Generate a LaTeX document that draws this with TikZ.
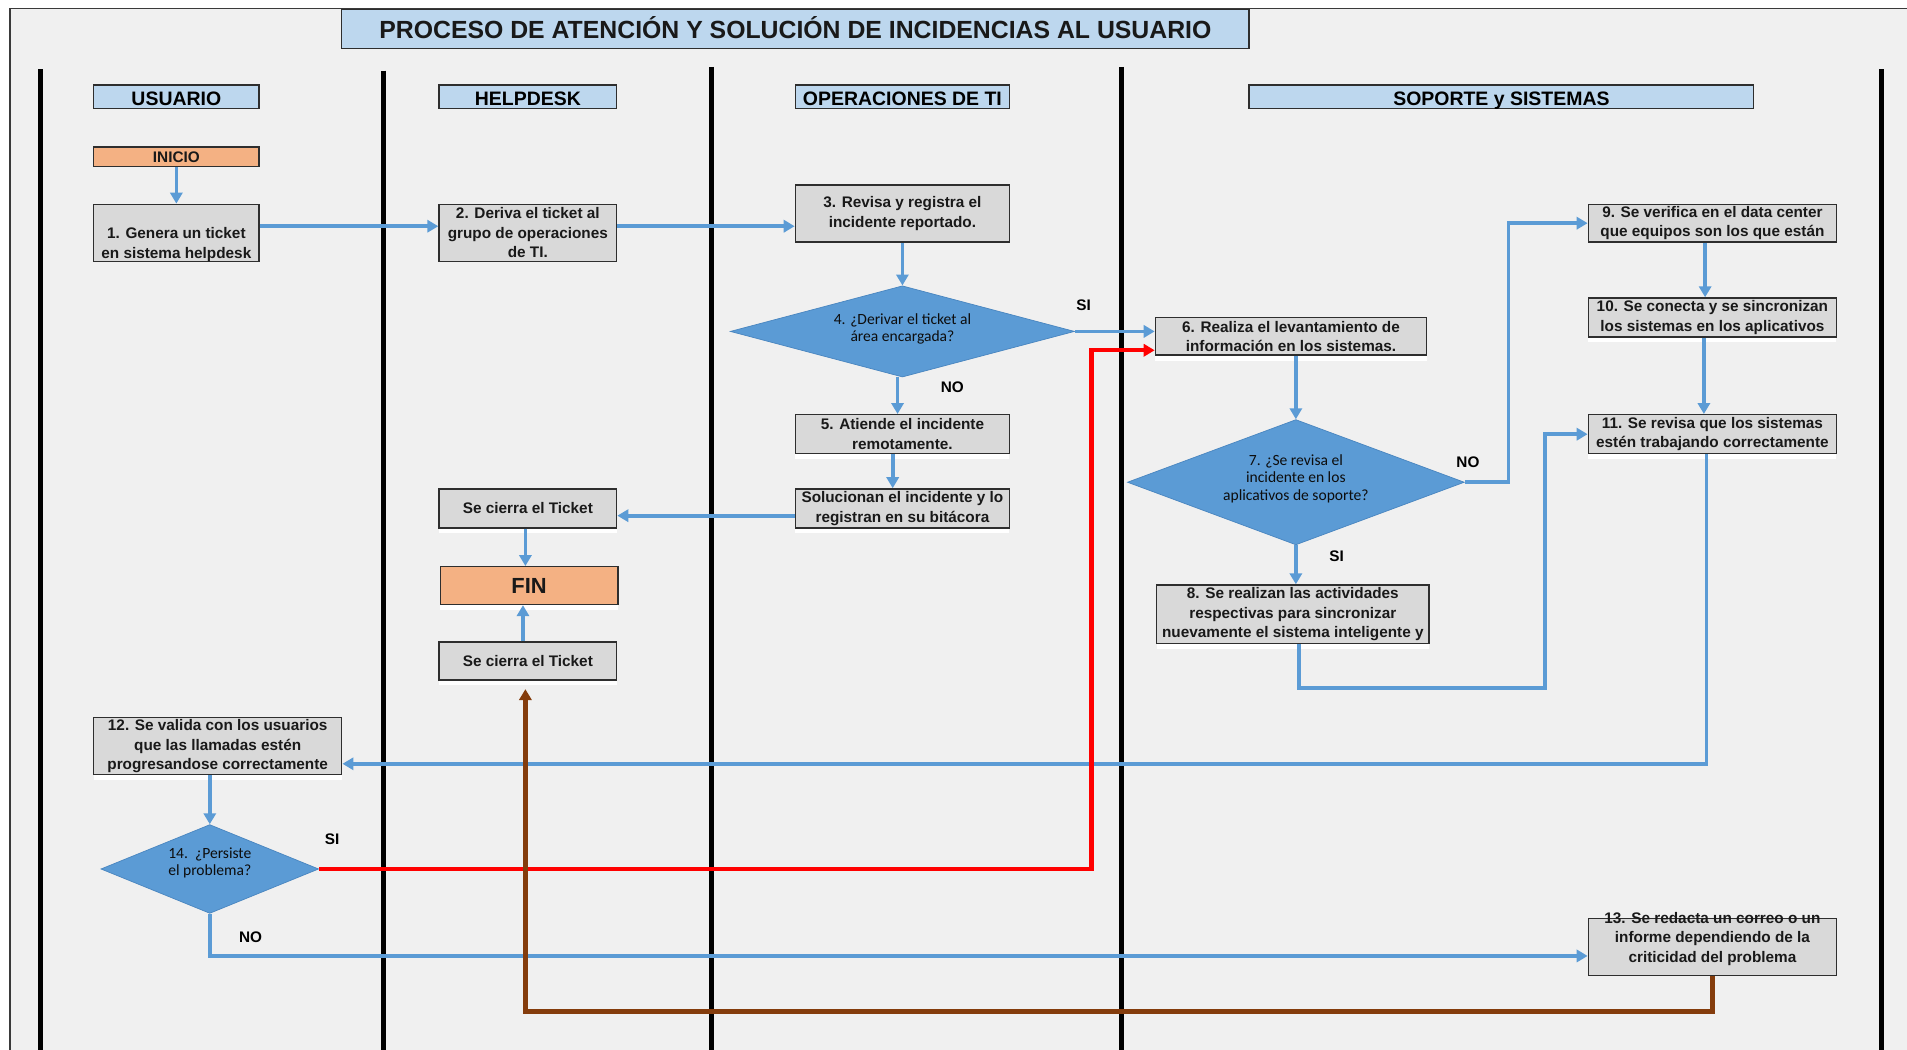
\documentclass[tikz,border=0pt]{standalone}
\usepackage{fontspec}
\setmainfont{Liberation Sans}
\newfontfamily\diafont{Carlito}
\usetikzlibrary{shapes.geometric,arrows.meta,shadows,calc}

\definecolor{pagebg}{HTML}{F0F0F0}
\definecolor{framec}{HTML}{3A3A3A}
\definecolor{hdrfill}{HTML}{BDD7EE}
\definecolor{boxfill}{HTML}{D9D9D9}
\definecolor{boxline}{HTML}{2E2E2E}
\definecolor{startfill}{HTML}{F4B183}
\definecolor{decfill}{HTML}{5B9BD5}
\definecolor{decline}{HTML}{4A86C0}
\definecolor{flowc}{HTML}{5B9BD5}
\definecolor{backc}{HTML}{FF0000}
\definecolor{closec}{HTML}{843C0C}

\tikzset{
  hdr/.style={draw=boxline, fill=hdrfill, line width=1.1pt, inner sep=0pt,
    minimum height=19pt, text height=14pt, text depth=0pt,
    font=\bfseries\fontsize{16}{19}\selectfont},
  proc/.style={draw=boxline, fill=boxfill, line width=1.2pt, inner sep=0pt,
    align=center, text=black!90, font=\bfseries\fontsize{12.6}{16}\selectfont},
  ptext/.style={inner sep=0pt, align=center, text=black!90,
    font=\bfseries\fontsize{12.6}{16}\selectfont},
  lit/.style={general shadow={shadow yshift=-4.5pt, fill=white}},
  term/.style={proc, fill=startfill},
  decision/.style={diamond, draw=decline, fill=decfill, line width=0.6pt, inner sep=0pt},
  dtext/.style={inner sep=0pt, align=center, text=black!95,
    font=\diafont\fontsize{12.8}{14.5}\selectfont},
  lane/.style={line width=4pt, black},
  tip/.style={-{Triangle[length=9pt,width=10pt]}},
  flow/.style={draw=flowc, line width=3pt, tip},
  back/.style={draw=backc, line width=3.6pt, tip},
  ret/.style={draw=closec, line width=3.6pt, tip},
  lbl/.style={inner sep=0pt, font=\bfseries\fontsize{12.6}{14}\selectfont}
}

\begin{document}
\begin{tikzpicture}[x=1pt,y=-1pt]
\useasboundingbox (0,0) rectangle (1568,863);
\fill[white] (0,0) rectangle (1568,863);
\filldraw[fill=pagebg, draw=framec, line width=1.5pt] (8,7) rectangle (1590,890);

% swimlane separators
\foreach \lx/\ly in {33/57, 315/58, 585/55, 922/55, 1547/57}
  \draw[lane] (\lx,\ly) -- (\lx,870);

% title and lane headers
\node[proc, fill=hdrfill, minimum width=746pt, minimum height=32pt,
      text height=14.6pt, text depth=0pt,
      font=\bfseries\fontsize{20.4}{24}\selectfont] (title) at (654,24)
  {PROCESO DE ATENCIÓN Y SOLUCIÓN DE INCIDENCIAS AL USUARIO};
\node[hdr, minimum width=136pt] (hU) at (145,79.5) {USUARIO};
\node[hdr, minimum width=146pt] (hH) at (434,79.5) {HELPDESK};
\node[hdr, minimum width=176pt] (hO) at (742,79.5) {OPERACIONES DE TI};
\node[hdr, minimum width=415pt] (hS) at (1234.5,79.5) {SOPORTE y SISTEMAS};

% USUARIO lane
\node[term, minimum width=136pt, minimum height=16pt] (ini) at (145,129) {INICIO};
\node[proc, minimum width=136pt, minimum height=47pt] (b1) at (145,191.5) {};
\node[ptext] (b1t) at (145,201) {1. Genera un ticket\\en sistema helpdesk};
\node[proc, lit, minimum width=204pt, minimum height=47pt] (b12) at (179,613.5)
  {12. Se valida con los usuarios\\que las llamadas estén\\progresandose correctamente};
\node[decision, aspect=2.452, minimum width=179pt, minimum height=73pt] (d14) at (172.5,714.5) {};
\node[dtext] (d14t) at (172.5,709.5) {14.\ \ ¿Persiste\\el problema?};

% HELPDESK lane
\node[proc, minimum width=146pt, minimum height=47pt] (b2) at (434,191.5)
  {2. Deriva el ticket al\\grupo de operaciones\\de TI.};
\node[proc, lit, minimum width=146pt, minimum height=32pt] (close1) at (434,418)
  {Se cierra el Ticket};
\node[term, lit, minimum width=146pt, minimum height=31pt,
      font=\bfseries\fontsize{18}{20}\selectfont] (fin) at (435,481.5) {FIN};
\node[proc, lit, minimum width=146pt, minimum height=31pt] (close2) at (434,543.5)
  {Se cierra el Ticket};

% OPERACIONES DE TI lane
\node[proc, minimum width=176pt, minimum height=47pt] (b3) at (742,175.5)
  {3. Revisa y registra el\\incidente reportado.};
\node[decision, aspect=3.773, minimum width=283pt, minimum height=75pt] (d4) at (742,272.5) {};
\node[dtext] (d4t) at (742,270.5) {4. ¿Derivar el ticket al\\área encargada?};
\node[proc, lit, minimum width=176pt, minimum height=32pt] (b5) at (742,357)
  {5. Atiende el incidente\\remotamente.};
\node[proc, lit, minimum width=176pt, minimum height=32pt] (bsol) at (742,418)
  {Solucionan el incidente y lo\\registran en su bitácora};

% SOPORTE y SISTEMAS lane
\node[proc, lit, minimum width=223pt, minimum height=31pt] (b6) at (1061.5,276.5)
  {6. Realiza el levantamiento de\\información en los sistemas.};
\node[decision, aspect=2.689, minimum width=277pt, minimum height=103pt] (d7) at (1065.5,396.5) {};
\node[dtext] (d7t) at (1065.5,393.5) {7. ¿Se revisa el\\incidente en los\\aplicativos de soporte?};
\node[proc, lit, minimum width=224pt, minimum height=48pt] (b8) at (1063,505)
  {8. Se realizan las actividades\\respectivas para sincronizar\\nuevamente el sistema inteligente y};
\node[proc, minimum width=204pt, minimum height=31pt] (b9) at (1408,183.5)
  {9. Se verifica en el data center\\que equipos son los que están};
\node[proc, lit, minimum width=204pt, minimum height=32pt] (b10) at (1408,261)
  {10. Se conecta y se sincronizan\\los sistemas en los aplicativos};
\node[proc, lit, minimum width=204pt, minimum height=32pt] (b11) at (1408,357)
  {11. Se revisa que los sistemas\\estén trabajando correctamente};
\node[proc, minimum width=204pt, minimum height=47pt] (b13) at (1408,778.5) {};
\node[ptext] (b13t) at (1408,772)
  {13. Se redacta un correo o un\\informe dependiendo de la\\criticidad del problema};

% main flow
\draw[flow] (ini.south) -- (b1.north);
\draw[flow] ([yshift=5.5pt]b1.east) -- ([yshift=5.5pt]b2.west);
\coordinate (c23) at ([yshift=5.5pt]b2.east);
\draw[flow] (c23) -- (c23 -| b3.west);
\draw[flow] (b3.south) -- (d4.north);
\draw[flow] (d4.east) -- (d4.east -| b6.west);
\draw[flow] ([xshift=-4pt]d4.south) -- ([xshift=-4pt]b5.north);
\draw[flow] ([xshift=-8pt]b5.south) -- ([xshift=-8pt]bsol.north);
\draw[flow] ([yshift=-6pt]bsol.west) -- ([yshift=-6pt]close1.east);
\draw[flow] ([xshift=-2pt]close1.south) -- ([xshift=-3pt]fin.north);
\draw[flow] ([xshift=-4pt]close2.north) -- ([xshift=-5pt]fin.south);

% support branch
\draw[flow] (d7.north |- b6.south) -- (d7.north);
\draw[flow] (d7.east) -- ++(36,0) |- (b9.west);
\draw[flow] (d7.south) -- (d7.south |- b8.north);
\draw[flow] ([xshift=-6pt]b9.south) -- ([xshift=-6pt]b10.north);
\draw[flow] ([xshift=-7pt]b10.south) -- ([xshift=-7pt]b11.north);
\draw[flow] ([xshift=5pt]b8.south) -- ++(0,36) -| ($(b11.west)+(-35,0)$) -- (b11.west);
\draw[flow] ([xshift=-5pt]b11.south) |- ([yshift=-14.5pt]b12.east);

% user validation
\draw[flow] (d14.north |- b12.south) -- (d14.north);
\coordinate (r6) at ([yshift=-11.5pt]b6.west);
\draw[back] (d14.east) -| ($(r6)+(-52,0)$) -- (r6);
\draw[flow] (d14.south) |- ([yshift=-7.5pt]b13.west);
\coordinate (r2) at ([xshift=-2pt,yshift=-7pt]close2.south);
\draw[ret] (b13.south) -- ++(0,29) -| (r2);

% branch labels
\node[lbl] (l4si) at (891,251) {SI};
\node[lbl] (l4no) at (783,318) {NO};
\node[lbl] (l7no) at (1207,380) {NO};
\node[lbl] (l7si) at (1099,457) {SI};
\node[lbl] (l14si) at (273,690) {SI};
\node[lbl] (l14no) at (206,771) {NO};
\end{tikzpicture}
\end{document}
